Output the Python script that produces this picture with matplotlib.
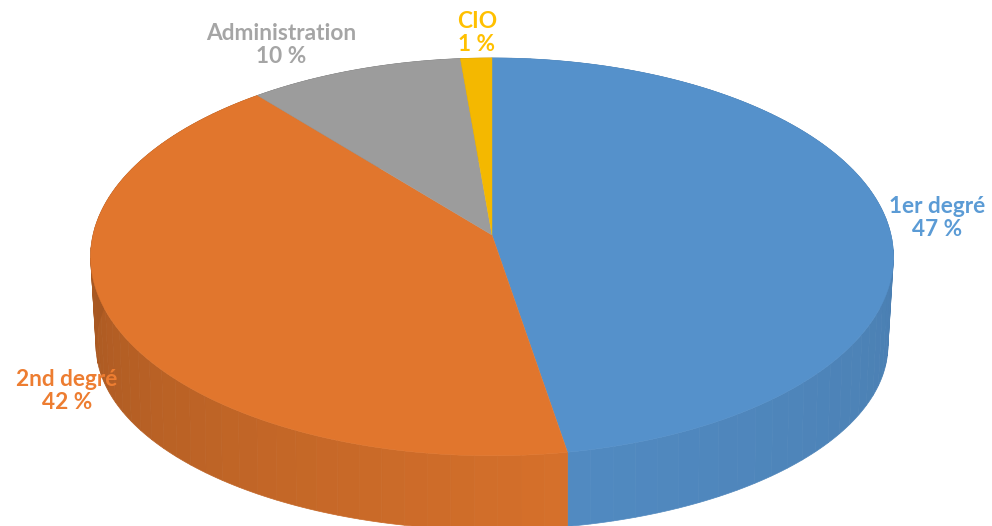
"""
Camembert 3D : repartition par categorie
"""

import numpy as np
from matplotlib import pyplot as plt
from matplotlib.patches import Polygon

categories = ['1er degré', '2nd degré', 'Administration', 'CIO']
values = [47.3, 41.7, 9.6, 1.4]
percent_labels = ['47 %', '42 %', '10 %', '1 %']

top_colors = ['#5591CB', '#E1762D', '#9C9C9C', '#F4B800']
text_colors = ['#5B9BD5', '#ED7D31', '#A5A5A5', '#FFC000']
label_pos = [(937, 218), (67, 391), (281, 45), (477, 33)]

plt.rcParams['font.family'] = ['Lato', 'DejaVu Sans']


def project(theta, r, cx, cy, rx, ry, k):
    # theta clockwise from the top, perspective squeezes the back of the disc
    u = r * np.sin(theta)
    v = r * np.cos(theta)
    w = 1 + k * v
    return cx + rx * u / w, cy - ry * v / w


def top_disc(theta, r=1.0):
    return project(theta, r, 492, 235, 399, 196.5, 0.11)


def bottom_disc(theta):
    return project(theta, 1.0, 492, 322.4, 393, 181.9, 0.123)


def wall_shade(theta):
    # darker towards the left, a little darker towards the right
    deg = np.degrees(theta)
    return np.interp(deg, [0, 90, 170, 180, 270, 360], [0.85, 0.87, 0.95, 0.93, 0.74, 0.74])


def shaded(color, factor):
    rgb = np.array(plt.matplotlib.colors.to_rgb(color))
    return tuple(rgb * factor)


fig = plt.figure(figsize=(9.92, 5.26), dpi=100)
ax = fig.add_axes([0, 0, 1, 1])
ax.set_xlim(0, 992)
ax.set_ylim(526, 0)
ax.axis('off')

edges = np.cumsum([0] + values) / sum(values) * 2 * np.pi

# side wall first, cut in bands so the shading shows steps
for i in range(len(values)):
    n = max(1, int(np.degrees(edges[i + 1] - edges[i]) / 3))
    bands = np.linspace(edges[i], edges[i + 1], n + 1)
    for a, b in zip(bands[:-1], bands[1:]):
        t = np.linspace(a, b, 4)
        x1, y1 = top_disc(t)
        x2, y2 = bottom_disc(t)
        pts = np.column_stack([np.r_[x1, x2[::-1]], np.r_[y1, y2[::-1]]])
        c = shaded(top_colors[i], wall_shade((a + b) / 2))
        ax.add_patch(Polygon(pts, closed=True, facecolor=c, edgecolor=c, lw=0.5))

# top of the pie
for i in range(len(values)):
    t = np.linspace(edges[i], edges[i + 1], 200)
    x, y = top_disc(t)
    cx, cy = top_disc(np.array([0.0]), 0.0)
    pts = np.column_stack([np.r_[cx, x], np.r_[cy, y]])
    ax.add_patch(Polygon(pts, closed=True, facecolor=top_colors[i], edgecolor=top_colors[i], lw=0.3))

for i in range(len(categories)):
    ax.text(label_pos[i][0], label_pos[i][1], categories[i] + '\n' + percent_labels[i],
            ha='center', va='center', fontsize=16.3, fontweight='bold',
            color=text_colors[i], linespacing=1.08)

plt.savefig('out.png', dpi=100)
